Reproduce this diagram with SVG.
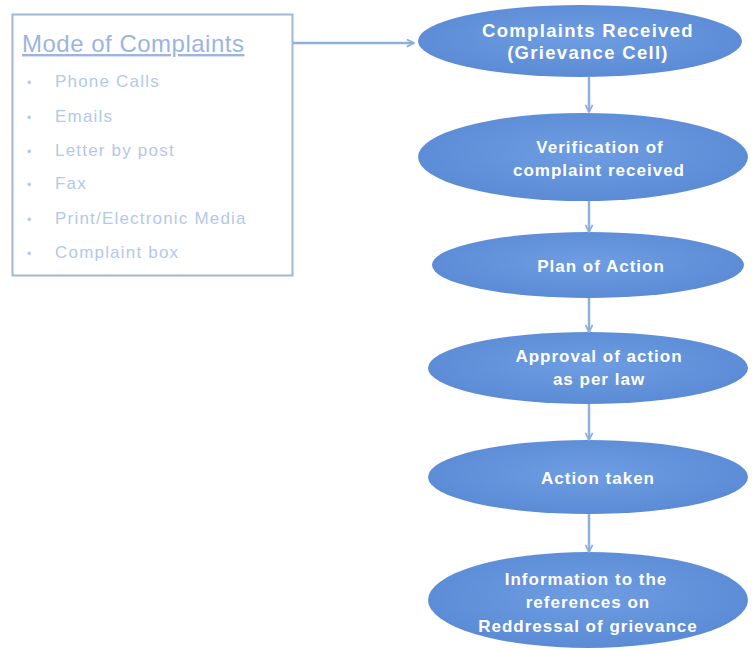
<svg xmlns="http://www.w3.org/2000/svg" width="754" height="650" viewBox="0 0 754 650">
  <defs>
    <radialGradient id="oval" cx="50%" cy="45%" r="55%">
      <stop offset="0" stop-color="#6e9de2"/>
      <stop offset="1" stop-color="#5b8bd5"/>
    </radialGradient>
    <marker id="head" viewBox="0 0 10 10" refX="9" refY="5" markerWidth="9" markerHeight="9" markerUnits="userSpaceOnUse" orient="auto">
      <path d="M1,1 L9,5 L1,9" fill="none" stroke="#8fb0de" stroke-width="2"/>
    </marker>
    <style>
      .oval { fill: url(#oval); }
      .lbl { font-family: "Liberation Sans", Arial, sans-serif; font-size: 17px; font-weight: bold; letter-spacing: 1px; fill: #ffffff; text-anchor: middle; }
      .big { font-size: 18.5px; letter-spacing: 1.3px; }
      .item { font-family: "Liberation Sans", Arial, sans-serif; font-size: 17px; letter-spacing: 1.2px; fill: #b3c8ea; }
      .dot { font-family: "Liberation Sans", Arial, sans-serif; font-size: 12px; fill: #b3c8ea; }
      .title { font-family: "Liberation Sans", Arial, sans-serif; font-size: 24px; letter-spacing: 0.5px; fill: #9cb4df; text-decoration: underline; }
      .link { stroke: #8fb0de; stroke-width: 2.5; fill: none; marker-end: url(#head); }
    </style>
  </defs>
  <rect width="754" height="650" fill="#ffffff"/>

  <!-- list of complaint channels -->
  <g id="modes">
    <rect x="12.5" y="14.5" width="280" height="261" fill="#ffffff" stroke="#9fb6d6" stroke-width="2"/>
    <text class="title" x="22" y="52">Mode of Complaints</text>
    <text class="dot" x="27" y="87">•</text><text class="item" x="55" y="87">Phone Calls</text>
    <text class="dot" x="27" y="122">•</text><text class="item" x="55" y="122">Emails</text>
    <text class="dot" x="27" y="156">•</text><text class="item" x="55" y="156">Letter by post</text>
    <text class="dot" x="27" y="189">•</text><text class="item" x="55" y="189">Fax</text>
    <text class="dot" x="27" y="224">•</text><text class="item" x="55" y="224">Print/Electronic Media</text>
    <text class="dot" x="27" y="258">•</text><text class="item" x="55" y="258">Complaint box</text>
  </g>

  <g id="received">
    <ellipse class="oval" cx="580" cy="41" rx="162" ry="36"/>
    <text class="lbl big" x="588" y="37">Complaints Received</text>
    <text class="lbl big" x="588" y="59">(Grievance Cell)</text>
  </g>

  <g id="verification">
    <ellipse class="oval" cx="583" cy="157" rx="165" ry="44"/>
    <text class="lbl" x="600" y="153">Verification of</text>
    <text class="lbl" x="599" y="176">complaint received</text>
  </g>

  <g id="plan">
    <ellipse class="oval" cx="588" cy="265" rx="156" ry="33"/>
    <text class="lbl" x="601" y="272">Plan of Action</text>
  </g>

  <g id="approval">
    <ellipse class="oval" cx="588" cy="368" rx="160" ry="36"/>
    <text class="lbl" x="599" y="362">Approval of action</text>
    <text class="lbl" x="599" y="385">as per law</text>
  </g>

  <g id="taken">
    <ellipse class="oval" cx="588" cy="477" rx="160" ry="37"/>
    <text class="lbl" x="598" y="484">Action taken</text>
  </g>

  <g id="information">
    <ellipse class="oval" cx="588" cy="600" rx="160" ry="48"/>
    <text class="lbl" x="586" y="585">Information to the</text>
    <text class="lbl" x="588" y="608">references on</text>
    <text class="lbl" x="588" y="632">Reddressal of grievance</text>
  </g>

  <g id="connectors">
    <line class="link" x1="293" y1="43" x2="414" y2="43"/>
    <line class="link" x1="589" y1="77" x2="589" y2="112"/>
    <line class="link" x1="589" y1="201" x2="589" y2="232"/>
    <line class="link" x1="589" y1="298" x2="589" y2="332"/>
    <line class="link" x1="589" y1="404" x2="589" y2="440"/>
    <line class="link" x1="589" y1="514" x2="589" y2="552"/>
  </g>
</svg>
